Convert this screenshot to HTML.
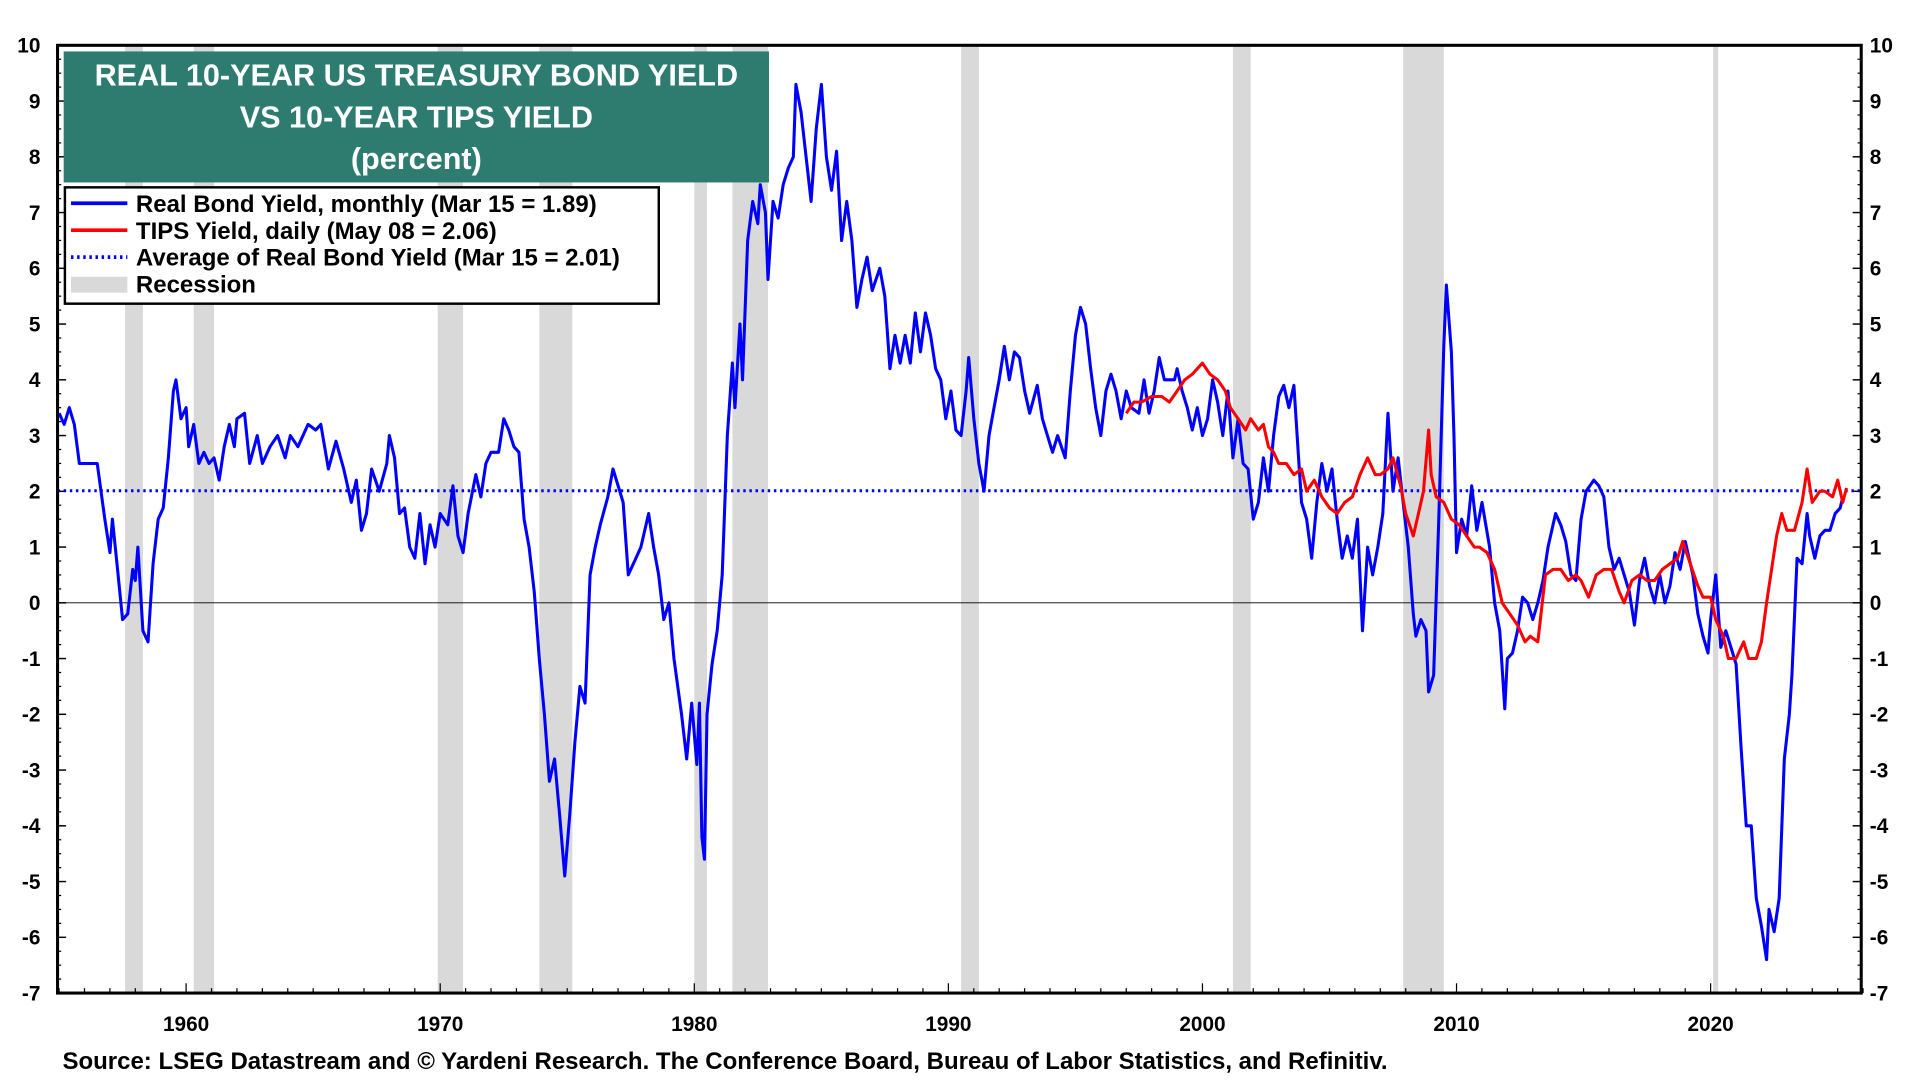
<!DOCTYPE html>
<html><head><meta charset="utf-8"><style>
html,body{margin:0;padding:0;background:#fff;}
svg{display:block;font-family:"Liberation Sans",Arial,sans-serif;}
</style></head><body>
<svg id="chart" width="1920" height="1080" viewBox="0 0 1568 882" xmlns="http://www.w3.org/2000/svg">
<g id="rec"></g>
<g id="axes"></g>
<g id="series"></g>
<rect x="52" y="42" width="576" height="107" fill="#2e7c70"/>
<text x="340" y="70" text-anchor="middle" fill="#fff" font-weight="bold" font-size="25">REAL 10-YEAR US TREASURY BOND YIELD</text>
<text x="340" y="104" text-anchor="middle" fill="#fff" font-weight="bold" font-size="25">VS 10-YEAR TIPS YIELD</text>
<text x="340" y="138" text-anchor="middle" fill="#fff" font-weight="bold" font-size="25">(percent)</text>
<g>
<rect x="53" y="153" width="485" height="95" fill="#fff" stroke="#000" stroke-width="2"/>
<line x1="58" y1="166" x2="104" y2="166" stroke="#0000ff" stroke-width="3"/>
<text x="111" y="173" font-size="19.6" font-weight="bold">Real Bond Yield, monthly (Mar 15 = 1.89)</text>
<line x1="58" y1="188" x2="104" y2="188" stroke="#ff0000" stroke-width="3"/>
<text x="111" y="195" font-size="19.6" font-weight="bold">TIPS Yield, daily (May 08 = 2.06)</text>
<line x1="58" y1="210" x2="104" y2="210" stroke="#0000ff" stroke-width="3" stroke-dasharray="2,3"/>
<text x="111" y="217" font-size="19.6" font-weight="bold">Average of Real Bond Yield (Mar 15 = 2.01)</text>
<rect x="58" y="226" width="46" height="13" fill="#d9d9d9"/>
<text x="111" y="239" font-size="19.6" font-weight="bold">Recession</text>
</g>
<text x="51" y="873" font-size="19.6" font-weight="bold">Source: LSEG Datastream and © Yardeni Research. The Conference Board, Bureau of Labor Statistics, and Refinitiv.</text>
</svg>
<script>
const recStart=[1957.6,1960.3,1969.9,1973.9,1980.0,1981.5,1990.5,2001.2,2007.9,2020.1];
const recEnd=[1958.3,1961.1,1970.9,1975.2,1980.5,1982.9,1991.2,2001.9,2009.5,2020.3];
const yTicks=[10,9,8,7,6,5,4,3,2,1,0,-1,-2,-3,-4,-5,-6,-7];
const xTicks=[1960,1970,1980,1990,2000,2010,2020];
const avgValue=2.01;
const blueYears=[1955.0,1955.2,1955.4,1955.6,1955.8,1956.2,1956.5,1956.8,1957.0,1957.1,1957.3,1957.5,1957.7,1957.9,1958.0,1958.1,1958.3,1958.5,1958.7,1958.9,1959.1,1959.3,1959.5,1959.6,1959.8,1960.0,1960.1,1960.3,1960.5,1960.7,1960.9,1961.1,1961.3,1961.5,1961.7,1961.9,1962.0,1962.3,1962.5,1962.8,1963.0,1963.3,1963.6,1963.9,1964.1,1964.4,1964.8,1965.1,1965.3,1965.6,1965.9,1966.2,1966.5,1966.7,1966.9,1967.1,1967.3,1967.6,1967.9,1968.0,1968.2,1968.4,1968.6,1968.8,1969.0,1969.2,1969.4,1969.6,1969.8,1970.0,1970.3,1970.5,1970.7,1970.9,1971.1,1971.4,1971.6,1971.8,1972.0,1972.3,1972.5,1972.7,1972.9,1973.1,1973.3,1973.5,1973.7,1973.9,1974.1,1974.3,1974.5,1974.7,1974.9,1975.1,1975.3,1975.5,1975.7,1975.9,1976.1,1976.3,1976.6,1976.8,1977.0,1977.2,1977.4,1977.7,1977.9,1978.2,1978.4,1978.6,1978.8,1979.0,1979.2,1979.5,1979.7,1979.9,1980.1,1980.2,1980.3,1980.4,1980.5,1980.7,1980.9,1981.1,1981.3,1981.5,1981.6,1981.8,1981.9,1982.1,1982.3,1982.5,1982.6,1982.8,1982.9,1983.1,1983.3,1983.5,1983.7,1983.9,1984.0,1984.2,1984.4,1984.6,1984.8,1985.0,1985.2,1985.4,1985.6,1985.8,1986.0,1986.2,1986.4,1986.6,1986.8,1987.0,1987.3,1987.5,1987.7,1987.9,1988.1,1988.3,1988.5,1988.7,1988.9,1989.1,1989.3,1989.5,1989.7,1989.9,1990.1,1990.3,1990.5,1990.7,1990.8,1991.0,1991.2,1991.4,1991.6,1991.8,1992.0,1992.2,1992.4,1992.6,1992.8,1993.0,1993.2,1993.5,1993.7,1993.9,1994.1,1994.3,1994.6,1994.8,1995.0,1995.2,1995.4,1995.6,1995.8,1996.0,1996.2,1996.4,1996.6,1996.8,1997.0,1997.2,1997.5,1997.7,1997.9,1998.1,1998.3,1998.5,1998.7,1998.9,1999.0,1999.2,1999.4,1999.6,1999.8,2000.0,2000.2,2000.4,2000.6,2000.8,2001.0,2001.2,2001.4,2001.6,2001.8,2002.0,2002.2,2002.4,2002.6,2002.8,2003.0,2003.2,2003.4,2003.6,2003.8,2003.9,2004.1,2004.3,2004.5,2004.7,2004.9,2005.1,2005.3,2005.5,2005.7,2005.9,2006.1,2006.3,2006.5,2006.7,2006.9,2007.1,2007.3,2007.5,2007.7,2007.9,2008.1,2008.3,2008.4,2008.6,2008.8,2008.9,2009.1,2009.3,2009.5,2009.6,2009.8,2009.9,2010.0,2010.2,2010.4,2010.6,2010.8,2011.0,2011.3,2011.5,2011.7,2011.9,2012.0,2012.2,2012.4,2012.6,2012.8,2013.0,2013.2,2013.4,2013.6,2013.9,2014.1,2014.3,2014.5,2014.7,2014.9,2015.1,2015.4,2015.6,2015.8,2016.0,2016.2,2016.4,2016.6,2016.8,2017.0,2017.2,2017.4,2017.6,2017.8,2018.0,2018.2,2018.4,2018.6,2018.8,2019.0,2019.3,2019.5,2019.7,2019.9,2020.0,2020.2,2020.4,2020.6,2020.8,2021.0,2021.2,2021.4,2021.6,2021.8,2022.0,2022.2,2022.3,2022.5,2022.7,2022.9,2023.1,2023.2,2023.4,2023.6,2023.8,2023.9,2024.1,2024.3,2024.5,2024.7,2024.9,2025.1,2025.2];
const blueValues=[3.4,3.2,3.5,3.2,2.5,2.5,2.5,1.5,0.9,1.5,0.6,-0.3,-0.2,0.6,0.4,1.0,-0.5,-0.7,0.7,1.5,1.7,2.6,3.8,4.0,3.3,3.5,2.8,3.2,2.5,2.7,2.5,2.6,2.2,2.8,3.2,2.8,3.3,3.4,2.5,3.0,2.5,2.8,3.0,2.6,3.0,2.8,3.2,3.1,3.2,2.4,2.9,2.4,1.8,2.2,1.3,1.6,2.4,2.0,2.5,3.0,2.6,1.6,1.7,1.0,0.8,1.6,0.7,1.4,1.0,1.6,1.4,2.1,1.2,0.9,1.6,2.3,1.9,2.5,2.7,2.7,3.3,3.1,2.8,2.7,1.5,1.0,0.2,-1.0,-2.0,-3.2,-2.8,-3.8,-4.9,-3.8,-2.5,-1.5,-1.8,0.5,1.0,1.4,1.9,2.4,2.1,1.8,0.5,0.8,1.0,1.6,1.0,0.5,-0.3,0.0,-1.0,-2.0,-2.8,-1.8,-2.9,-1.8,-4.2,-4.6,-2.0,-1.1,-0.5,0.5,3.0,4.3,3.5,5.0,4.0,6.5,7.2,6.8,7.5,7.0,5.8,7.2,6.9,7.5,7.8,8.0,9.3,8.8,8.0,7.2,8.5,9.3,8.0,7.4,8.1,6.5,7.2,6.5,5.3,5.8,6.2,5.6,6.0,5.5,4.2,4.8,4.3,4.8,4.3,5.2,4.5,5.2,4.8,4.2,4.0,3.3,3.8,3.1,3.0,3.8,4.4,3.3,2.5,2.0,3.0,3.5,4.0,4.6,4.0,4.5,4.4,3.8,3.4,3.9,3.3,3.0,2.7,3.0,2.6,3.8,4.8,5.3,5.0,4.2,3.5,3.0,3.8,4.1,3.8,3.3,3.8,3.5,3.4,4.0,3.4,3.8,4.4,4.0,4.0,4.0,4.2,3.8,3.5,3.1,3.5,3.0,3.3,4.0,3.6,3.0,3.8,2.6,3.3,2.5,2.4,1.5,1.8,2.6,2.0,3.0,3.7,3.9,3.5,3.9,2.5,1.8,1.5,0.8,1.8,2.5,2.0,2.4,1.5,0.8,1.2,0.8,1.5,-0.5,1.0,0.5,1.0,1.6,3.4,2.0,2.6,1.8,1.0,-0.2,-0.6,-0.3,-0.5,-1.6,-1.3,1.5,4.6,5.7,4.5,3.0,0.9,1.5,1.2,2.1,1.3,1.8,1.0,0.0,-0.5,-1.9,-1.0,-0.9,-0.5,0.1,0.0,-0.3,0.0,0.4,1.0,1.6,1.4,1.1,0.5,0.4,1.5,2.0,2.2,2.1,1.9,1.0,0.6,0.8,0.5,0.2,-0.4,0.4,0.8,0.3,0.0,0.5,0.0,0.3,0.9,0.6,1.1,0.5,-0.2,-0.6,-0.9,-0.3,0.5,-0.8,-0.5,-0.8,-1.1,-2.6,-4.0,-4.0,-5.3,-5.8,-6.4,-5.5,-5.9,-5.3,-2.8,-2.0,-1.3,0.8,0.7,1.6,1.2,0.8,1.2,1.3,1.3,1.6,1.7,1.89];
const redYears=[1997.0,1997.3,1997.6,1998.0,1998.4,1998.7,1999.0,1999.3,1999.6,2000.0,2000.3,2000.6,2000.9,2001.1,2001.4,2001.7,2001.9,2002.2,2002.4,2002.6,2002.8,2003.0,2003.3,2003.6,2003.9,2004.1,2004.4,2004.7,2005.0,2005.3,2005.6,2005.9,2006.2,2006.5,2006.8,2007.0,2007.3,2007.5,2007.8,2008.0,2008.3,2008.5,2008.7,2008.9,2009.0,2009.2,2009.5,2009.8,2010.1,2010.4,2010.7,2010.9,2011.2,2011.5,2011.8,2012.1,2012.4,2012.7,2012.9,2013.2,2013.5,2013.8,2014.1,2014.4,2014.7,2014.9,2015.2,2015.5,2015.8,2016.1,2016.4,2016.6,2016.9,2017.2,2017.5,2017.8,2018.1,2018.4,2018.7,2018.9,2019.2,2019.5,2019.7,2020.0,2020.2,2020.5,2020.7,2021.0,2021.3,2021.5,2021.8,2022.0,2022.2,2022.4,2022.6,2022.8,2023.0,2023.3,2023.6,2023.8,2024.0,2024.3,2024.5,2024.8,2025.0,2025.2,2025.35];
const redValues=[3.4,3.6,3.6,3.7,3.7,3.6,3.8,4.0,4.1,4.3,4.1,4.0,3.8,3.5,3.3,3.1,3.3,3.1,3.2,2.8,2.7,2.5,2.5,2.3,2.4,2.0,2.2,1.9,1.7,1.6,1.8,1.9,2.3,2.6,2.3,2.3,2.4,2.6,2.1,1.6,1.2,1.6,2.0,3.1,2.3,1.9,1.8,1.5,1.4,1.2,1.0,1.0,0.9,0.6,0.0,-0.2,-0.4,-0.7,-0.6,-0.7,0.5,0.6,0.6,0.4,0.5,0.4,0.1,0.5,0.6,0.6,0.2,0.0,0.4,0.5,0.4,0.4,0.6,0.7,0.8,1.1,0.7,0.3,0.1,0.1,-0.3,-0.6,-1.0,-1.0,-0.7,-1.0,-1.0,-0.7,0.0,0.6,1.2,1.6,1.3,1.3,1.8,2.4,1.8,2.0,2.0,1.9,2.2,1.8,2.06];

const NS="http://www.w3.org/2000/svg";
const L=47,R=1520,T=37,B=811;
const x=yr=>48.25+(yr-1955)*20.75;
const y=v=>T+(10-v)*(B-T)/17;
function mk(tag,attrs,parent,txt){const e=document.createElementNS(NS,tag);for(const k in attrs)e.setAttribute(k,attrs[k]);if(txt!==undefined)e.textContent=txt;parent.appendChild(e);return e;}
const rec=document.getElementById('rec'),axes=document.getElementById('axes'),ser=document.getElementById('series');
recStart.forEach((s,i)=>{const r=mk('rect',{x:x(s),y:T,width:x(recEnd[i])-x(s),height:B-T,fill:'#d9d9d9'},rec);

});
const z=mk('line',{x1:L,x2:R,y1:y(0),y2:y(0),stroke:'#000','stroke-width':0.8},axes);


yTicks.forEach(v=>{
 const a=mk('text',{x:33,y:y(v)+6,'text-anchor':'end','font-size':17,'font-weight':'bold'},axes,String(v));
 
 
 const b=mk('text',{x:1527,y:y(v)+6,'font-size':17,'font-weight':'bold'},axes,String(v));
 
 
 mk('line',{x1:L,x2:L+7,y1:y(v),y2:y(v),stroke:'#000','stroke-width':1.2},axes);
 mk('line',{x1:R-7,x2:R,y1:y(v),y2:y(v),stroke:'#000','stroke-width':1.2},axes);
 if(v>-7)for(let k=1;k<4;k++){const yy=y(v-k/4);mk('line',{x1:L,x2:L+3,y1:yy,y2:yy,stroke:'#000'},axes);mk('line',{x1:R-3,x2:R,y1:yy,y2:yy,stroke:'#000'},axes);}
});
for(let yr=1955;yr<=2026;yr++){const len=yr%10===0?8:4;mk('line',{x1:x(yr),x2:x(yr),y1:B,y2:B-len,stroke:'#000'},axes);}
xTicks.forEach(yr=>{const t=mk('text',{x:x(yr),y:842,'text-anchor':'middle','font-size':17,'font-weight':'bold'},axes,String(yr));

});
const av=mk('line',{x1:L,x2:R,y1:y(avgValue),y2:y(avgValue),stroke:'#0000ff','stroke-width':2.5,'stroke-dasharray':'2,3'},ser);


const bp=mk('polyline',{points:blueYears.map((t,i)=>x(t).toFixed(1)+','+y(blueValues[i]).toFixed(1)).join(' '),fill:'none',stroke:'#0000ff','stroke-width':2.5,'stroke-linejoin':'round'},ser);


const rp=mk('polyline',{points:redYears.map((t,i)=>x(t).toFixed(1)+','+y(redValues[i]).toFixed(1)).join(' '),fill:'none',stroke:'#ff0000','stroke-width':2.5,'stroke-linejoin':'round'},ser);


const fr=mk('rect',{x:L,y:T,width:R-L,height:B-T,fill:'none',stroke:'#000','stroke-width':2.5},ser);


</script>
</body></html>
